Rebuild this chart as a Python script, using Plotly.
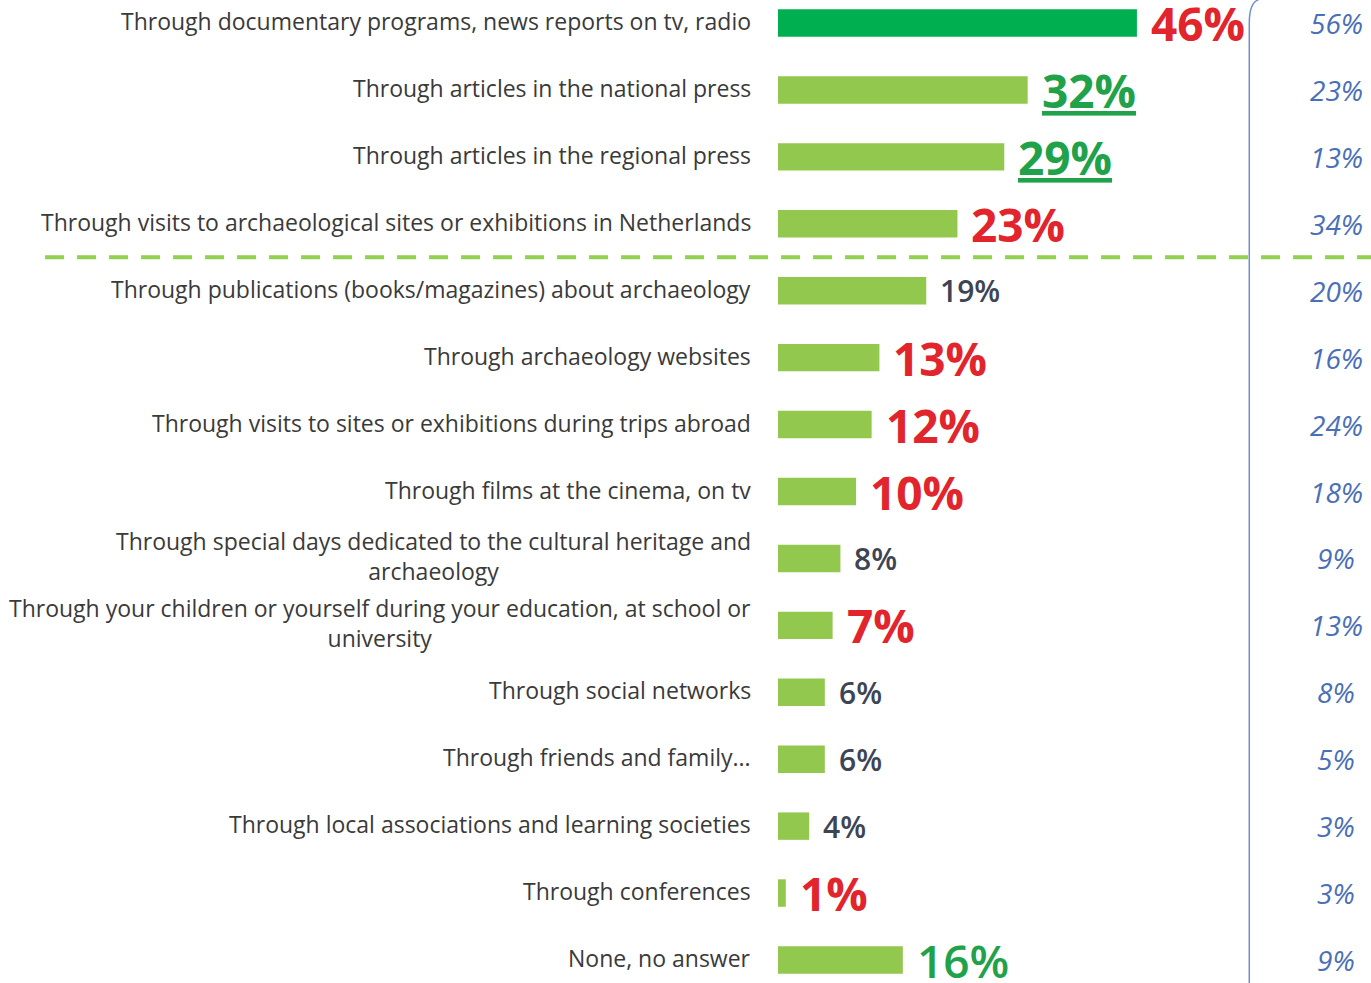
import plotly.graph_objects as go

# channels through which people heard about archaeology
categories = [
    'Through documentary programs, news reports on tv, radio',
    'Through articles in the national press',
    'Through articles in the regional press',
    'Through visits to archaeological sites or exhibitions in Netherlands',
    'Through publications (books/magazines) about archaeology',
    'Through archaeology websites',
    'Through visits to sites or exhibitions during trips abroad',
    'Through films at the cinema, on tv',
    'Through special days dedicated to the cultural heritage and<br>archaeology',
    'Through your children or yourself during your education, at school or<br>university',
    'Through social networks',
    'Through friends and family...',
    'Through local associations and learning societies',
    'Through conferences',
    'None, no answer',
]
values = [46, 32, 29, 23, 19, 13, 12, 10, 8, 7, 6, 6, 4, 1, 16]
previous = [56, 23, 13, 34, 20, 16, 24, 18, 9, 13, 8, 5, 3, 3, 9]

# how each value label is highlighted
label_style = ['red', 'green_u', 'green_u', 'red', 'gray', 'red', 'red', 'red',
               'gray', 'red', 'gray', 'gray', 'gray', 'red', 'green']

RED = '#e2242c'
GREEN = '#1fa24a'
GRAY = '#3d4454'
BLUE = '#4a6fb7'
STYLES = {
    'red': dict(color=RED, size=46, weight='bold'),
    'green_u': dict(color=GREEN, size=46, weight='bold', lineposition='under'),
    'green': dict(color=GREEN, size=46, weight=600),
    'gray': dict(color=GRAY, size=30, weight=600),
}

rows = list(range(len(categories)))
bar_colors = ['#00b050'] + ['#92c84e'] * (len(categories) - 1)

fig = go.Figure(go.Bar(
    x=values, y=rows, orientation='h',
    marker=dict(color=bar_colors, line=dict(width=0)),
    width=0.41, hoverinfo='skip',
))

for i, (cat, v, p, st) in enumerate(zip(categories, values, previous, label_style)):
    # category label left of the bars
    fig.add_annotation(x=0, xref='paper', y=i, yref='y', text=cat,
                       xanchor='right', align='center', xshift=-25, yshift=2,
                       showarrow=False,
                       font=dict(family='Open Sans', size=23, color='#3a3a3a'))
    # value at the end of the bar
    s = STYLES[st]
    fig.add_annotation(x=v, y=i, text=f'{v}%', xanchor='left', xshift=12,
                       showarrow=False,
                       font=dict(family='Open Sans', size=s['size'], color=s['color'],
                                 weight=s['weight'], lineposition=s.get('lineposition', 'none')))
    # previous survey column
    fig.add_annotation(x=1, xref='paper', y=i, text=f'{p}%', xanchor='center',
                       xshift=-35, showarrow=False,
                       font=dict(family='Open Sans', size=28, color=BLUE, style='italic'))

# separator between top 4 and the rest
fig.add_shape(type='line', xref='paper', x0=-1.236, x1=1.0, y0=3.5, y1=3.5,
              line=dict(color='#92d050', width=4, dash='19px,13px'))
# bracket line in front of the previous-survey column
fig.add_shape(type='path', xref='x', yref='y',
              path='M 60.4 14.6 L 60.4 0.0 Q 60.4 -0.3 61.6 -0.35',
              line=dict(color='#6f8fcf', width=1.5))

fig.update_layout(
    width=1371, height=983,
    margin=dict(l=778, r=0, t=0, b=0),
    plot_bgcolor='white', paper_bgcolor='white',
    showlegend=False,
    xaxis=dict(range=[0, 76], visible=False),
    yaxis=dict(range=[14.344, -0.344], visible=False),
)

# drop the default body margin so the figure fills the window exactly
fig.write_html('out.html', config={'displayModeBar': False},
               post_script="document.body.style.margin='0';document.body.style.overflow='hidden';")
